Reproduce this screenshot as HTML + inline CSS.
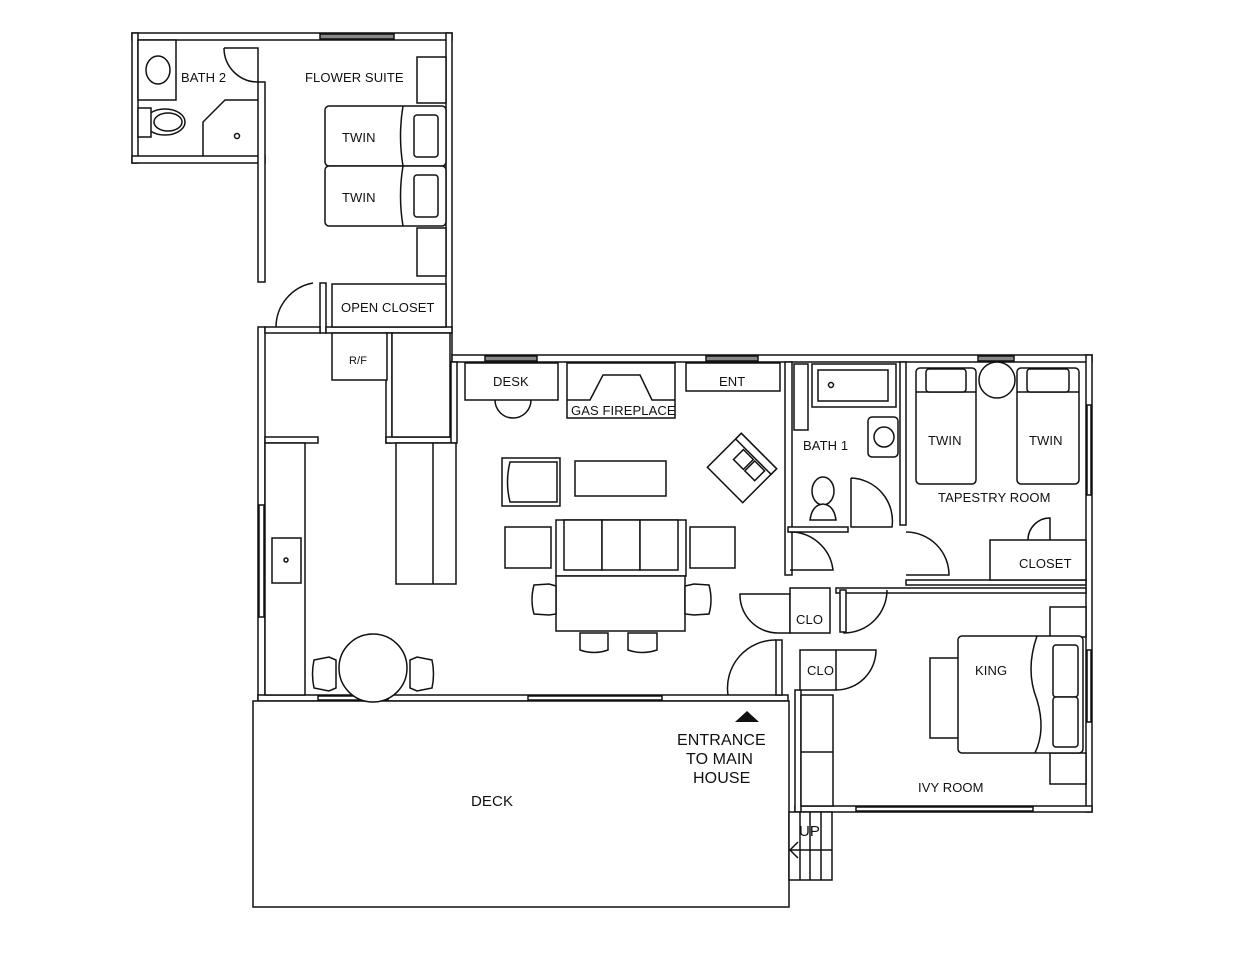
<!DOCTYPE html>
<html><head><meta charset="utf-8"><style>
html,body{margin:0;padding:0;background:#fff;}
svg{display:block;}
text{font-family:"Liberation Sans",sans-serif;font-size:13px;fill:#111;letter-spacing:0.1px;}
</style></head><body>
<svg width="1242" height="960" viewBox="0 0 1242 960" xmlns="http://www.w3.org/2000/svg">
<g fill="#fff" stroke="#111" stroke-width="1.5">
<!-- walls -->
<rect x="132" y="33" width="320" height="7"/>
<rect x="132" y="33" width="6" height="130"/>
<rect x="132" y="156" width="133" height="7"/>
<rect x="258" y="82" width="7" height="200"/>
<rect x="258" y="327" width="7" height="374"/>
<rect x="446" y="33" width="6" height="329"/>
<rect x="452" y="355" width="640" height="7"/>
<rect x="258" y="695" width="530" height="6"/>
<rect x="1086" y="355" width="6" height="457"/>
<rect x="795" y="806" width="297" height="6"/>
<rect x="795" y="690" width="6" height="122"/>
<rect x="785" y="362" width="7" height="213"/>
<rect x="900" y="362" width="6" height="163"/>
<rect x="788" y="527" width="60" height="5"/>
<rect x="906" y="580" width="180" height="5"/>
<rect x="836" y="588" width="250" height="5"/>
<rect x="776" y="640" width="6" height="55"/>
<rect x="320" y="283" width="6" height="50"/>
<rect x="265" y="327" width="55" height="6"/>
<rect x="326" y="327" width="126" height="6"/>
<rect x="386" y="333" width="6" height="110"/>
<rect x="386" y="437" width="70" height="6"/>
<rect x="265" y="437" width="53" height="6"/>
<rect x="451" y="362" width="6" height="81"/>
<!-- windows -->
<rect x="320" y="34" width="74" height="5" fill="#888"/>
<rect x="485" y="356" width="52" height="5" fill="#888"/>
<rect x="706" y="356" width="52" height="5" fill="#888"/>
<rect x="978" y="356" width="36" height="5" fill="#888"/>
<rect x="259" y="505" width="5" height="112" fill="#fff"/>
<rect x="318" y="696" width="70" height="4" fill="#fff"/>
<rect x="528" y="696" width="134" height="4" fill="#fff"/>
<rect x="856" y="807" width="177" height="4" fill="#fff"/>
<rect x="1087" y="405" width="4" height="90" fill="#fff"/>
<rect x="1087" y="650" width="4" height="72" fill="#fff"/>
<!-- deck -->
<rect x="253" y="701" width="536" height="206"/>
<!-- stairs -->
<rect x="789" y="812" width="43" height="68"/>
<line x1="800" y1="812" x2="800" y2="880"/><line x1="810" y1="812" x2="810" y2="880"/><line x1="821" y1="812" x2="821" y2="880"/>
<polyline points="798,842 790,850 798,858" fill="none"/><line x1="790" y1="850" x2="832" y2="850"/>
<!-- bath2 -->
<rect x="138" y="40" width="38" height="60"/>
<ellipse cx="158" cy="70" rx="12" ry="14"/>
<ellipse cx="165" cy="122" rx="20" ry="13"/><ellipse cx="168" cy="122" rx="14" ry="9"/>
<rect x="138" y="108" width="13" height="29"/>
<polyline points="258,100 225,100 203,122 203,156" fill="none"/>
<circle cx="237" cy="136" r="2.5"/>
<path d="M224,48 L258,48 L258,82 A34,34 0 0 1 224,48" fill="none"/>
<!-- flower suite -->
<rect x="417" y="57" width="29" height="46"/>
<rect x="417" y="228" width="29" height="48"/>
<rect x="325" y="106" width="121" height="60" rx="4"/>
<rect x="325" y="166" width="121" height="60" rx="4"/>
<path d="M403,106 Q398,136 403,166 Q398,196 403,226" fill="none"/>
<rect x="414" y="115" width="24" height="42" rx="3"/>
<rect x="414" y="175" width="24" height="42" rx="3"/>
<rect x="332" y="284" width="114" height="43"/>
<path d="M313,283 A45,45 0 0 0 276,327" fill="none"/>
<!-- kitchen -->
<rect x="332" y="333" width="55" height="47"/>
<rect x="392" y="333" width="58" height="104"/>
<rect x="396" y="443" width="60" height="141"/>
<line x1="433" y1="443" x2="433" y2="584"/>
<rect x="265" y="443" width="40" height="252"/>
<rect x="272" y="538" width="29" height="45"/>
<circle cx="286" cy="560" r="2"/>
<circle cx="373" cy="668" r="34"/>
<path d="M314,660 L329,657 L336,660 L336,688 L329,691 L314,688 Q311,674 314,660Z"/>
<path d="M432,660 L417,657 L410,660 L410,688 L417,691 L432,688 Q435,674 432,660Z"/>
<!-- living -->
<path d="M495,400 A18,18 0 0 0 531,400"/>
<rect x="465" y="363" width="93" height="37"/>
<rect x="567" y="363" width="108" height="55"/>
<polyline points="567,400 590,400 603,375 640,375 652,400 675,400" fill="none"/>
<rect x="686" y="363" width="94" height="28"/>
<rect x="502" y="458" width="58" height="48"/>
<path d="M510,462 Q505,482 510,502 L557,502 L557,462Z" fill="none"/>
<rect x="575" y="461" width="91" height="35"/>
<rect x="556" y="520" width="130" height="56"/>
<rect x="564" y="520" width="38" height="50"/><rect x="602" y="520" width="38" height="50"/><rect x="640" y="520" width="38" height="50"/>
<rect x="505" y="527" width="46" height="41"/>
<rect x="690" y="527" width="45" height="41"/>
<rect x="556" y="576" width="129" height="55"/>
<path d="M534,585 L549,584 L556,586 L556,614 L549,615 L534,614 Q530,600 534,585Z"/>
<path d="M709,585 L694,584 L685,586 L685,614 L694,615 L709,614 Q713,600 709,585Z"/>
<path d="M580,633 L580,650 Q594,655 608,650 L608,633Z"/>
<path d="M628,633 L628,650 Q642,655 657,650 L657,633Z"/>
<g transform="translate(742,468) rotate(45)">
<rect x="-25" y="-24" width="50" height="48"/>
<rect x="-25" y="-24" width="50" height="8"/>
<rect x="-12" y="-14" width="14" height="14"/><rect x="4" y="-14" width="14" height="14"/>
</g>
<!-- bath1 -->
<rect x="812" y="364" width="84" height="43"/>
<rect x="818" y="370" width="70" height="31"/>
<circle cx="831" cy="385" r="2.5"/>
<rect x="868" y="417" width="30" height="40" rx="4"/>
<circle cx="884" cy="437" r="10"/>
<rect x="794" y="364" width="14" height="66"/>
<ellipse cx="823" cy="491" rx="11" ry="14"/>
<path d="M810,520 Q812,505 823,504 Q834,505 836,520Z"/>
<path d="M851,478 L851,527 L892,527 A43,43 0 0 0 851,478" fill="none"/>
<!-- hall doors -->
<path d="M790,532 A43,43 0 0 1 833,570 L790,570" fill="none"/>
<path d="M906,532 A43,43 0 0 1 949,575 L906,575" fill="none"/>
<path d="M844,590 L844,633 A43,43 0 0 0 887,590" fill="none"/>
<rect x="840" y="590" width="6" height="42"/>
<path d="M740,594 L790,594 L790,633 L778,633 A38,38 0 0 1 740,594Z"/>
<rect x="790" y="588" width="40" height="45"/>
<path d="M728,695 A48,48 0 0 1 776,640" fill="none"/>
<rect x="800" y="650" width="36" height="40"/>
<path d="M836,650 L876,650 A40,40 0 0 1 836,690" fill="none"/>
<!-- tapestry -->
<rect x="916" y="368" width="60" height="116" rx="4"/>
<rect x="1017" y="368" width="62" height="116" rx="4"/>
<line x1="916" y1="392" x2="976" y2="392"/><line x1="1017" y1="392" x2="1079" y2="392"/>
<rect x="926" y="369" width="40" height="23" rx="3"/>
<rect x="1027" y="369" width="42" height="23" rx="3"/>
<circle cx="997" cy="380" r="18"/>
<rect x="990" y="540" width="96" height="40"/>
<path d="M1028,540 A22,22 0 0 1 1050,518 L1050,540" fill="none"/>
<!-- ivy -->
<rect x="801" y="695" width="32" height="111"/><line x1="801" y1="752" x2="833" y2="752"/>
<rect x="1050" y="607" width="36" height="30"/>
<rect x="1050" y="753" width="36" height="31"/>
<rect x="930" y="658" width="30" height="80"/>
<rect x="958" y="636" width="125" height="117" rx="4"/>
<path d="M1037,636 Q1025,670 1037,700 Q1046,730 1035,753" fill="none"/>
<rect x="1053" y="645" width="25" height="52" rx="3"/>
<rect x="1053" y="697" width="25" height="50" rx="3"/>
</g>
<polygon points="735,722 747,711 759,722" fill="#111"/>
<g>
<text x="181" y="82">BATH 2</text>
<text x="305" y="82">FLOWER SUITE</text>
<text x="342" y="142">TWIN</text>
<text x="342" y="202">TWIN</text>
<text x="341" y="312">OPEN CLOSET</text>
<text x="349" y="364" style="font-size:11px">R/F</text>
<text x="493" y="386">DESK</text>
<text x="571" y="415">GAS FIREPLACE</text>
<text x="719" y="386">ENT</text>
<text x="803" y="450">BATH 1</text>
<text x="928" y="445">TWIN</text>
<text x="1029" y="445">TWIN</text>
<text x="938" y="502">TAPESTRY ROOM</text>
<text x="1019" y="568">CLOSET</text>
<text x="796" y="624">CLO</text>
<text x="807" y="675">CLO</text>
<text x="975" y="675">KING</text>
<text x="918" y="792">IVY ROOM</text>
<text x="677" y="745" style="font-size:16px">ENTRANCE</text>
<text x="686" y="764" style="font-size:16px">TO MAIN</text>
<text x="693" y="783" style="font-size:16px">HOUSE</text>
<text x="471" y="806" style="font-size:15px">DECK</text>
<text x="799" y="836" style="font-size:15px">UP</text>
</g>
</svg>
</body></html>
